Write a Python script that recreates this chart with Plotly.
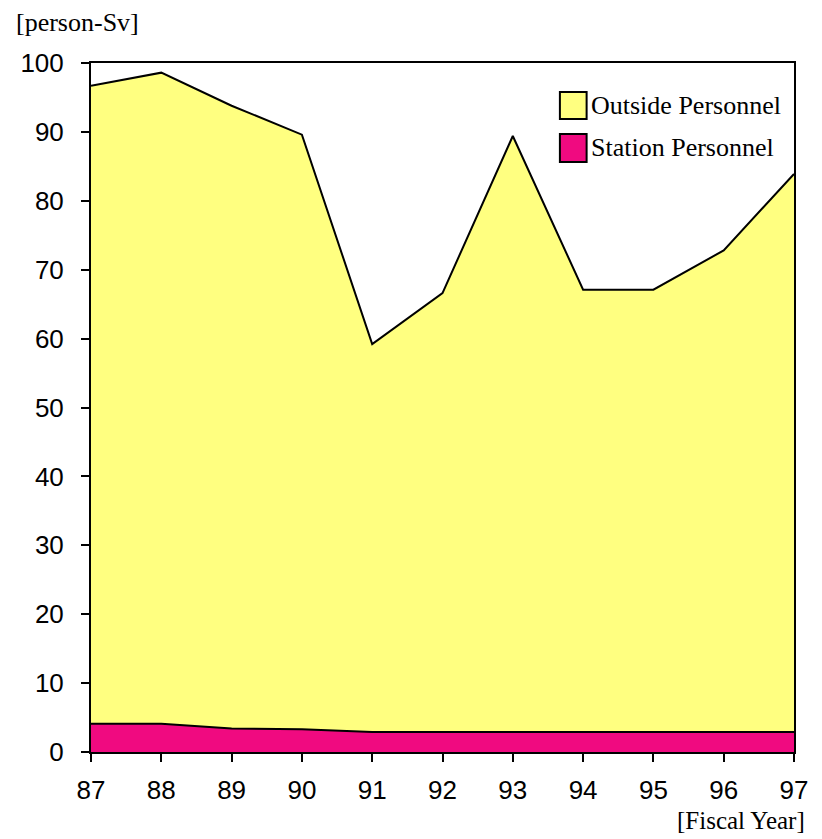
import plotly.graph_objects as go

years = [87, 88, 89, 90, 91, 92, 93, 94, 95, 96, 97]
station = [4.1, 4.1, 3.4, 3.3, 2.9, 2.9, 2.9, 2.9, 2.9, 2.9, 2.9]
outside = [92.6, 94.5, 90.4, 86.3, 56.3, 63.7, 86.5, 64.2, 64.2, 69.9, 81.0]
y_ticks = [0, 10, 20, 30, 40, 50, 60, 70, 80, 90, 100]
x_ticks = years
legend_labels = ["Outside Personnel", "Station Personnel"]
colors = {"Outside Personnel": "#FFFF80", "Station Personnel": "#F00A80"}

fig = go.Figure()
fig.add_trace(go.Scatter(
    x=years, y=station, name="Station Personnel", stackgroup="one",
    mode="lines", line=dict(color="black", width=2), fillcolor=colors["Station Personnel"],
    showlegend=False, hoverinfo="skip",
))
fig.add_trace(go.Scatter(
    x=years, y=outside, name="Outside Personnel", stackgroup="one",
    mode="lines", line=dict(color="black", width=2), fillcolor=colors["Outside Personnel"],
    showlegend=False, hoverinfo="skip",
))

# manual legend (boxes + labels) in paper coordinates
shapes = []
annotations = []
box_rows = [(0.9188, 0.958, 0.939), (0.8564, 0.897, 0.877)]
for label, (y0, y1, yc) in zip(legend_labels, box_rows):
    shapes.append(dict(type="rect", xref="paper", yref="paper",
                       x0=0.667, x1=0.705, y0=y0, y1=y1,
                       fillcolor=colors[label], line=dict(color="black", width=2)))
    annotations.append(dict(text=label, xref="paper", yref="paper", x=0.709, y=yc,
                            xanchor="left", yanchor="middle", showarrow=False,
                            font=dict(family="Liberation Serif", size=26, color="black")))

annotations += [
    dict(text="[person-Sv]", xref="paper", yref="paper", x=-0.11, y=1.0595,
         xanchor="left", yanchor="middle", showarrow=False,
         font=dict(family="Liberation Serif", size=26, color="black")),
    dict(text="[Fiscal Year]", xref="paper", yref="paper", x=1.018, y=-0.1,
         xanchor="right", yanchor="middle", showarrow=False,
         font=dict(family="Liberation Serif", size=25, color="black")),
]

fig.update_layout(
    width=812, height=829,
    margin=dict(l=81, r=19, t=55, b=85),
    plot_bgcolor="white", paper_bgcolor="white",
    showlegend=False,
    shapes=shapes,
    annotations=annotations,
    xaxis=dict(
        range=[87, 97], tickvals=x_ticks, ticktext=[str(v) for v in x_ticks],
        showgrid=False, zeroline=False, showline=True, linecolor="black",
        linewidth=2, mirror=True, ticks="outside", ticklen=8, tickwidth=2,
        tickcolor="black", ticklabelstandoff=6,
        tickfont=dict(family="Liberation Sans", size=26, color="black"),
    ),
    yaxis=dict(
        range=[0, 100], tickvals=y_ticks,
        showgrid=False, zeroline=False, showline=True, linecolor="black",
        linewidth=2, mirror=True, ticks="outside", ticklen=8, tickwidth=2,
        tickcolor="black", ticklabelstandoff=12,
        tickfont=dict(family="Liberation Sans", size=26, color="black"),
    ),
)

fig.write_html("out.html")
